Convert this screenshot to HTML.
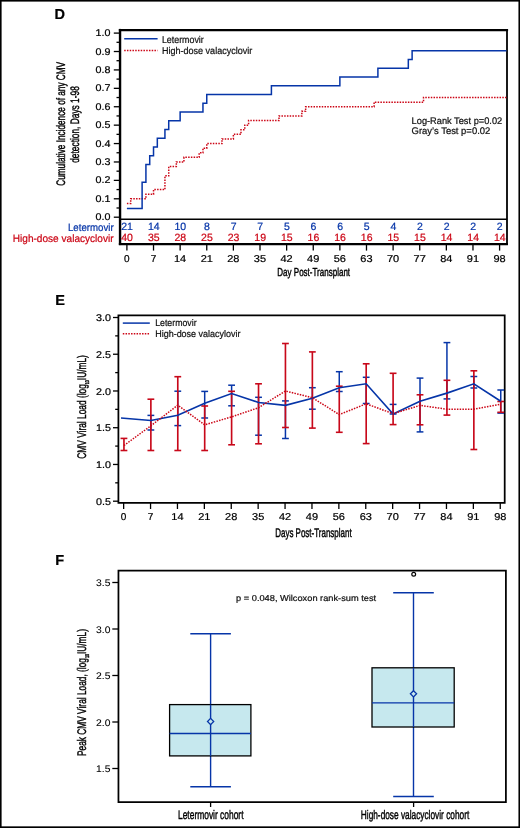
<!DOCTYPE html>
<html><head><meta charset="utf-8"><style>
html,body{margin:0;padding:0;background:#fff;}
svg{display:block;will-change:transform;}
text{font-family:"Liberation Sans", sans-serif;text-rendering:geometricPrecision;}
</style></head><body>
<svg width="520" height="828" viewBox="0 0 520 828">
<rect x="0" y="0" width="520" height="828" fill="#fff"/>
<text x="54.60" y="19.00" font-size="14.5" text-anchor="start" fill="#000" font-weight="bold" stroke="#000" stroke-width="0.22">D</text>
<line x1="120.05" y1="28.90" x2="120.05" y2="245.05" stroke="#000" stroke-width="2.4" />
<line x1="118.85" y1="30.05" x2="508.10" y2="30.05" stroke="#000" stroke-width="2.3" />
<line x1="507.00" y1="28.90" x2="507.00" y2="245.05" stroke="#000" stroke-width="1.8" />
<line x1="120.05" y1="219.20" x2="507.00" y2="219.20" stroke="#000" stroke-width="1.5" />
<line x1="118.85" y1="244.10" x2="507.90" y2="244.10" stroke="#000" stroke-width="2.1" />
<line x1="113.80" y1="217.20" x2="120.05" y2="217.20" stroke="#000" stroke-width="1.3" />
<text x="110.50" y="220.30" font-size="9.8" text-anchor="end" fill="#000" font-weight="normal" textLength="14.92" lengthAdjust="spacingAndGlyphs" stroke="#000" stroke-width="0.22">0.0</text>
<line x1="113.80" y1="198.79" x2="120.05" y2="198.79" stroke="#000" stroke-width="1.3" />
<text x="110.50" y="201.89" font-size="9.8" text-anchor="end" fill="#000" font-weight="normal" textLength="14.92" lengthAdjust="spacingAndGlyphs" stroke="#000" stroke-width="0.22">0.1</text>
<line x1="113.80" y1="180.38" x2="120.05" y2="180.38" stroke="#000" stroke-width="1.3" />
<text x="110.50" y="183.48" font-size="9.8" text-anchor="end" fill="#000" font-weight="normal" textLength="14.92" lengthAdjust="spacingAndGlyphs" stroke="#000" stroke-width="0.22">0.2</text>
<line x1="113.80" y1="161.97" x2="120.05" y2="161.97" stroke="#000" stroke-width="1.3" />
<text x="110.50" y="165.07" font-size="9.8" text-anchor="end" fill="#000" font-weight="normal" textLength="14.92" lengthAdjust="spacingAndGlyphs" stroke="#000" stroke-width="0.22">0.3</text>
<line x1="113.80" y1="143.56" x2="120.05" y2="143.56" stroke="#000" stroke-width="1.3" />
<text x="110.50" y="146.66" font-size="9.8" text-anchor="end" fill="#000" font-weight="normal" textLength="14.92" lengthAdjust="spacingAndGlyphs" stroke="#000" stroke-width="0.22">0.4</text>
<line x1="113.80" y1="125.15" x2="120.05" y2="125.15" stroke="#000" stroke-width="1.3" />
<text x="110.50" y="128.25" font-size="9.8" text-anchor="end" fill="#000" font-weight="normal" textLength="14.92" lengthAdjust="spacingAndGlyphs" stroke="#000" stroke-width="0.22">0.5</text>
<line x1="113.80" y1="106.74" x2="120.05" y2="106.74" stroke="#000" stroke-width="1.3" />
<text x="110.50" y="109.84" font-size="9.8" text-anchor="end" fill="#000" font-weight="normal" textLength="14.92" lengthAdjust="spacingAndGlyphs" stroke="#000" stroke-width="0.22">0.6</text>
<line x1="113.80" y1="88.33" x2="120.05" y2="88.33" stroke="#000" stroke-width="1.3" />
<text x="110.50" y="91.43" font-size="9.8" text-anchor="end" fill="#000" font-weight="normal" textLength="14.92" lengthAdjust="spacingAndGlyphs" stroke="#000" stroke-width="0.22">0.7</text>
<line x1="113.80" y1="69.92" x2="120.05" y2="69.92" stroke="#000" stroke-width="1.3" />
<text x="110.50" y="73.02" font-size="9.8" text-anchor="end" fill="#000" font-weight="normal" textLength="14.92" lengthAdjust="spacingAndGlyphs" stroke="#000" stroke-width="0.22">0.8</text>
<line x1="113.80" y1="51.51" x2="120.05" y2="51.51" stroke="#000" stroke-width="1.3" />
<text x="110.50" y="54.61" font-size="9.8" text-anchor="end" fill="#000" font-weight="normal" textLength="14.92" lengthAdjust="spacingAndGlyphs" stroke="#000" stroke-width="0.22">0.9</text>
<line x1="113.80" y1="33.10" x2="120.05" y2="33.10" stroke="#000" stroke-width="1.3" />
<text x="110.50" y="36.20" font-size="9.8" text-anchor="end" fill="#000" font-weight="normal" textLength="14.92" lengthAdjust="spacingAndGlyphs" stroke="#000" stroke-width="0.22">1.0</text>
<line x1="116.50" y1="207.99" x2="120.05" y2="207.99" stroke="#000" stroke-width="1.3" />
<line x1="116.50" y1="189.58" x2="120.05" y2="189.58" stroke="#000" stroke-width="1.3" />
<line x1="116.50" y1="171.17" x2="120.05" y2="171.17" stroke="#000" stroke-width="1.3" />
<line x1="116.50" y1="152.76" x2="120.05" y2="152.76" stroke="#000" stroke-width="1.3" />
<line x1="116.50" y1="134.35" x2="120.05" y2="134.35" stroke="#000" stroke-width="1.3" />
<line x1="116.50" y1="115.94" x2="120.05" y2="115.94" stroke="#000" stroke-width="1.3" />
<line x1="116.50" y1="97.53" x2="120.05" y2="97.53" stroke="#000" stroke-width="1.3" />
<line x1="116.50" y1="79.12" x2="120.05" y2="79.12" stroke="#000" stroke-width="1.3" />
<line x1="116.50" y1="60.71" x2="120.05" y2="60.71" stroke="#000" stroke-width="1.3" />
<line x1="116.50" y1="42.30" x2="120.05" y2="42.30" stroke="#000" stroke-width="1.3" />
<line x1="126.90" y1="244.00" x2="126.90" y2="250.60" stroke="#000" stroke-width="1.3" />
<text x="126.90" y="261.80" font-size="10" text-anchor="middle" fill="#000" font-weight="normal" textLength="5.56" lengthAdjust="spacingAndGlyphs" stroke="#000" stroke-width="0.22">0</text>
<line x1="153.52" y1="244.00" x2="153.52" y2="250.60" stroke="#000" stroke-width="1.3" />
<text x="153.52" y="261.80" font-size="10" text-anchor="middle" fill="#000" font-weight="normal" textLength="5.56" lengthAdjust="spacingAndGlyphs" stroke="#000" stroke-width="0.22">7</text>
<line x1="180.14" y1="244.00" x2="180.14" y2="250.60" stroke="#000" stroke-width="1.3" />
<text x="180.14" y="261.80" font-size="10" text-anchor="middle" fill="#000" font-weight="normal" textLength="12.22" lengthAdjust="spacingAndGlyphs" stroke="#000" stroke-width="0.22">14</text>
<line x1="206.76" y1="244.00" x2="206.76" y2="250.60" stroke="#000" stroke-width="1.3" />
<text x="206.76" y="261.80" font-size="10" text-anchor="middle" fill="#000" font-weight="normal" textLength="12.22" lengthAdjust="spacingAndGlyphs" stroke="#000" stroke-width="0.22">21</text>
<line x1="233.38" y1="244.00" x2="233.38" y2="250.60" stroke="#000" stroke-width="1.3" />
<text x="233.38" y="261.80" font-size="10" text-anchor="middle" fill="#000" font-weight="normal" textLength="12.22" lengthAdjust="spacingAndGlyphs" stroke="#000" stroke-width="0.22">28</text>
<line x1="260.00" y1="244.00" x2="260.00" y2="250.60" stroke="#000" stroke-width="1.3" />
<text x="260.00" y="261.80" font-size="10" text-anchor="middle" fill="#000" font-weight="normal" textLength="12.22" lengthAdjust="spacingAndGlyphs" stroke="#000" stroke-width="0.22">35</text>
<line x1="286.63" y1="244.00" x2="286.63" y2="250.60" stroke="#000" stroke-width="1.3" />
<text x="286.63" y="261.80" font-size="10" text-anchor="middle" fill="#000" font-weight="normal" textLength="12.22" lengthAdjust="spacingAndGlyphs" stroke="#000" stroke-width="0.22">42</text>
<line x1="313.25" y1="244.00" x2="313.25" y2="250.60" stroke="#000" stroke-width="1.3" />
<text x="313.25" y="261.80" font-size="10" text-anchor="middle" fill="#000" font-weight="normal" textLength="12.22" lengthAdjust="spacingAndGlyphs" stroke="#000" stroke-width="0.22">49</text>
<line x1="339.87" y1="244.00" x2="339.87" y2="250.60" stroke="#000" stroke-width="1.3" />
<text x="339.87" y="261.80" font-size="10" text-anchor="middle" fill="#000" font-weight="normal" textLength="12.22" lengthAdjust="spacingAndGlyphs" stroke="#000" stroke-width="0.22">56</text>
<line x1="366.49" y1="244.00" x2="366.49" y2="250.60" stroke="#000" stroke-width="1.3" />
<text x="366.49" y="261.80" font-size="10" text-anchor="middle" fill="#000" font-weight="normal" textLength="12.22" lengthAdjust="spacingAndGlyphs" stroke="#000" stroke-width="0.22">63</text>
<line x1="393.11" y1="244.00" x2="393.11" y2="250.60" stroke="#000" stroke-width="1.3" />
<text x="393.11" y="261.80" font-size="10" text-anchor="middle" fill="#000" font-weight="normal" textLength="12.22" lengthAdjust="spacingAndGlyphs" stroke="#000" stroke-width="0.22">70</text>
<line x1="419.73" y1="244.00" x2="419.73" y2="250.60" stroke="#000" stroke-width="1.3" />
<text x="419.73" y="261.80" font-size="10" text-anchor="middle" fill="#000" font-weight="normal" textLength="12.22" lengthAdjust="spacingAndGlyphs" stroke="#000" stroke-width="0.22">77</text>
<line x1="446.35" y1="244.00" x2="446.35" y2="250.60" stroke="#000" stroke-width="1.3" />
<text x="446.35" y="261.80" font-size="10" text-anchor="middle" fill="#000" font-weight="normal" textLength="12.22" lengthAdjust="spacingAndGlyphs" stroke="#000" stroke-width="0.22">84</text>
<line x1="472.97" y1="244.00" x2="472.97" y2="250.60" stroke="#000" stroke-width="1.3" />
<text x="472.97" y="261.80" font-size="10" text-anchor="middle" fill="#000" font-weight="normal" textLength="12.22" lengthAdjust="spacingAndGlyphs" stroke="#000" stroke-width="0.22">91</text>
<line x1="499.59" y1="244.00" x2="499.59" y2="250.60" stroke="#000" stroke-width="1.3" />
<text x="499.59" y="261.80" font-size="10" text-anchor="middle" fill="#000" font-weight="normal" textLength="12.22" lengthAdjust="spacingAndGlyphs" stroke="#000" stroke-width="0.22">98</text>
<text x="313.70" y="276.30" font-size="11.6" text-anchor="middle" fill="#000" font-weight="normal" textLength="72.80" lengthAdjust="spacingAndGlyphs" stroke="#000" stroke-width="0.42">Day Post-Transplant</text>
<text transform="translate(64.60,123.85) rotate(-90)" x="0" y="0" font-size="12.3" text-anchor="middle" fill="#000" textLength="123.90" lengthAdjust="spacingAndGlyphs" stroke="#000" stroke-width="0.42">Cumulative Incidence of any CMV</text>
<text transform="translate(78.90,124.50) rotate(-90)" x="0" y="0" font-size="12.3" text-anchor="middle" fill="#000" textLength="76.60" lengthAdjust="spacingAndGlyphs" stroke="#000" stroke-width="0.42">detection, Days 1-98</text>
<line x1="124.20" y1="38.80" x2="157.60" y2="38.80" stroke="#0635a8" stroke-width="1.5" />
<line x1="124.20" y1="50.40" x2="157.60" y2="50.40" stroke="#cc0616" stroke-width="1.5" stroke-dasharray="1.5 1.25"/>
<text x="161.90" y="42.90" font-size="9.8" text-anchor="start" fill="#111" font-weight="normal" textLength="41.90" lengthAdjust="spacingAndGlyphs" stroke="#111" stroke-width="0.22">Letermovir</text>
<text x="161.90" y="54.10" font-size="9.8" text-anchor="start" fill="#111" font-weight="normal" textLength="90.40" lengthAdjust="spacingAndGlyphs" stroke="#111" stroke-width="0.22">High-dose valacyclovir</text>
<text x="411.60" y="123.80" font-size="9.6" text-anchor="start" fill="#111" font-weight="normal" textLength="90.60" lengthAdjust="spacingAndGlyphs" stroke="#111" stroke-width="0.22">Log-Rank Test p=0.02</text>
<text x="411.60" y="134.40" font-size="9.6" text-anchor="start" fill="#111" font-weight="normal" textLength="78.70" lengthAdjust="spacingAndGlyphs" stroke="#111" stroke-width="0.22">Gray&#8217;s Test p=0.02</text>
<path d="M126.90,203.39 H130.70 V198.79 H145.92 V194.19 H153.52 V189.58 H164.93 V175.78 H168.73 V166.57 H176.34 V161.97 H183.94 V157.37 H199.16 V152.76 H202.96 V148.16 H206.76 V143.56 H221.98 V138.96 H233.38 V134.35 H240.99 V129.75 H244.79 V125.15 H248.60 V120.55 H279.02 V115.94 H301.84 V111.34 H305.64 V106.74 H374.10 V102.14 H423.53 V97.53 H506.40" fill="none" stroke="#cc0616" stroke-width="1.5" stroke-dasharray="1.5 1.25"/>
<path d="M126.90,208.43 H142.11 V182.13 H145.92 V164.60 H149.72 V155.83 H153.52 V147.07 H157.32 V138.30 H164.93 V129.53 H168.73 V120.77 H180.14 V112.00 H202.96 V103.23 H206.76 V94.47 H271.41 V85.70 H339.87 V76.93 H377.90 V68.17 H408.32 V59.40 H412.12 V50.63 H506.40" fill="none" stroke="#0635a8" stroke-width="1.5"/>
<text x="113.60" y="230.70" font-size="10.6" text-anchor="end" fill="#0635a8" font-weight="normal" textLength="45.60" lengthAdjust="spacingAndGlyphs" stroke="#0635a8" stroke-width="0.22">Letermovir</text>
<text x="113.60" y="242.00" font-size="10.6" text-anchor="end" fill="#cc0616" font-weight="normal" textLength="100.80" lengthAdjust="spacingAndGlyphs" stroke="#cc0616" stroke-width="0.22">High-dose valacyclovir</text>
<text x="127.10" y="230.40" font-size="10.5" text-anchor="middle" fill="#0635a8" font-weight="normal" stroke="#0635a8" stroke-width="0.22">21</text>
<text x="127.10" y="241.00" font-size="10.5" text-anchor="middle" fill="#cc0616" font-weight="normal" stroke="#cc0616" stroke-width="0.22">40</text>
<text x="153.72" y="230.40" font-size="10.5" text-anchor="middle" fill="#0635a8" font-weight="normal" stroke="#0635a8" stroke-width="0.22">14</text>
<text x="153.72" y="241.00" font-size="10.5" text-anchor="middle" fill="#cc0616" font-weight="normal" stroke="#cc0616" stroke-width="0.22">35</text>
<text x="180.34" y="230.40" font-size="10.5" text-anchor="middle" fill="#0635a8" font-weight="normal" stroke="#0635a8" stroke-width="0.22">10</text>
<text x="180.34" y="241.00" font-size="10.5" text-anchor="middle" fill="#cc0616" font-weight="normal" stroke="#cc0616" stroke-width="0.22">28</text>
<text x="206.96" y="230.40" font-size="10.5" text-anchor="middle" fill="#0635a8" font-weight="normal" stroke="#0635a8" stroke-width="0.22">8</text>
<text x="206.96" y="241.00" font-size="10.5" text-anchor="middle" fill="#cc0616" font-weight="normal" stroke="#cc0616" stroke-width="0.22">25</text>
<text x="233.58" y="230.40" font-size="10.5" text-anchor="middle" fill="#0635a8" font-weight="normal" stroke="#0635a8" stroke-width="0.22">7</text>
<text x="233.58" y="241.00" font-size="10.5" text-anchor="middle" fill="#cc0616" font-weight="normal" stroke="#cc0616" stroke-width="0.22">23</text>
<text x="260.20" y="230.40" font-size="10.5" text-anchor="middle" fill="#0635a8" font-weight="normal" stroke="#0635a8" stroke-width="0.22">7</text>
<text x="260.20" y="241.00" font-size="10.5" text-anchor="middle" fill="#cc0616" font-weight="normal" stroke="#cc0616" stroke-width="0.22">19</text>
<text x="286.83" y="230.40" font-size="10.5" text-anchor="middle" fill="#0635a8" font-weight="normal" stroke="#0635a8" stroke-width="0.22">5</text>
<text x="286.83" y="241.00" font-size="10.5" text-anchor="middle" fill="#cc0616" font-weight="normal" stroke="#cc0616" stroke-width="0.22">15</text>
<text x="313.45" y="230.40" font-size="10.5" text-anchor="middle" fill="#0635a8" font-weight="normal" stroke="#0635a8" stroke-width="0.22">6</text>
<text x="313.45" y="241.00" font-size="10.5" text-anchor="middle" fill="#cc0616" font-weight="normal" stroke="#cc0616" stroke-width="0.22">16</text>
<text x="340.07" y="230.40" font-size="10.5" text-anchor="middle" fill="#0635a8" font-weight="normal" stroke="#0635a8" stroke-width="0.22">6</text>
<text x="340.07" y="241.00" font-size="10.5" text-anchor="middle" fill="#cc0616" font-weight="normal" stroke="#cc0616" stroke-width="0.22">16</text>
<text x="366.69" y="230.40" font-size="10.5" text-anchor="middle" fill="#0635a8" font-weight="normal" stroke="#0635a8" stroke-width="0.22">5</text>
<text x="366.69" y="241.00" font-size="10.5" text-anchor="middle" fill="#cc0616" font-weight="normal" stroke="#cc0616" stroke-width="0.22">16</text>
<text x="393.31" y="230.40" font-size="10.5" text-anchor="middle" fill="#0635a8" font-weight="normal" stroke="#0635a8" stroke-width="0.22">4</text>
<text x="393.31" y="241.00" font-size="10.5" text-anchor="middle" fill="#cc0616" font-weight="normal" stroke="#cc0616" stroke-width="0.22">15</text>
<text x="419.93" y="230.40" font-size="10.5" text-anchor="middle" fill="#0635a8" font-weight="normal" stroke="#0635a8" stroke-width="0.22">2</text>
<text x="419.93" y="241.00" font-size="10.5" text-anchor="middle" fill="#cc0616" font-weight="normal" stroke="#cc0616" stroke-width="0.22">15</text>
<text x="446.55" y="230.40" font-size="10.5" text-anchor="middle" fill="#0635a8" font-weight="normal" stroke="#0635a8" stroke-width="0.22">2</text>
<text x="446.55" y="241.00" font-size="10.5" text-anchor="middle" fill="#cc0616" font-weight="normal" stroke="#cc0616" stroke-width="0.22">14</text>
<text x="473.17" y="230.40" font-size="10.5" text-anchor="middle" fill="#0635a8" font-weight="normal" stroke="#0635a8" stroke-width="0.22">2</text>
<text x="473.17" y="241.00" font-size="10.5" text-anchor="middle" fill="#cc0616" font-weight="normal" stroke="#cc0616" stroke-width="0.22">14</text>
<text x="499.79" y="230.40" font-size="10.5" text-anchor="middle" fill="#0635a8" font-weight="normal" stroke="#0635a8" stroke-width="0.22">2</text>
<text x="499.79" y="241.00" font-size="10.5" text-anchor="middle" fill="#cc0616" font-weight="normal" stroke="#cc0616" stroke-width="0.22">14</text>
<text x="55.30" y="305.40" font-size="14.5" text-anchor="start" fill="#000" font-weight="bold" stroke="#000" stroke-width="0.22">E</text>
<path d="M118.4,502.8 V315.4 H504.7 V502.8 Z" fill="none" stroke="#000" stroke-width="1.75"/>
<line x1="113.00" y1="501.20" x2="118.40" y2="501.20" stroke="#000" stroke-width="1.3" />
<text x="110.90" y="504.90" font-size="9.8" text-anchor="end" fill="#000" font-weight="normal" textLength="14.92" lengthAdjust="spacingAndGlyphs" stroke="#000" stroke-width="0.22">0.5</text>
<line x1="113.00" y1="464.46" x2="118.40" y2="464.46" stroke="#000" stroke-width="1.3" />
<text x="110.90" y="468.16" font-size="9.8" text-anchor="end" fill="#000" font-weight="normal" textLength="14.92" lengthAdjust="spacingAndGlyphs" stroke="#000" stroke-width="0.22">1.0</text>
<line x1="113.00" y1="427.72" x2="118.40" y2="427.72" stroke="#000" stroke-width="1.3" />
<text x="110.90" y="431.42" font-size="9.8" text-anchor="end" fill="#000" font-weight="normal" textLength="14.92" lengthAdjust="spacingAndGlyphs" stroke="#000" stroke-width="0.22">1.5</text>
<line x1="113.00" y1="390.98" x2="118.40" y2="390.98" stroke="#000" stroke-width="1.3" />
<text x="110.90" y="394.68" font-size="9.8" text-anchor="end" fill="#000" font-weight="normal" textLength="14.92" lengthAdjust="spacingAndGlyphs" stroke="#000" stroke-width="0.22">2.0</text>
<line x1="113.00" y1="354.24" x2="118.40" y2="354.24" stroke="#000" stroke-width="1.3" />
<text x="110.90" y="357.94" font-size="9.8" text-anchor="end" fill="#000" font-weight="normal" textLength="14.92" lengthAdjust="spacingAndGlyphs" stroke="#000" stroke-width="0.22">2.5</text>
<line x1="113.00" y1="317.50" x2="118.40" y2="317.50" stroke="#000" stroke-width="1.3" />
<text x="110.90" y="321.20" font-size="9.8" text-anchor="end" fill="#000" font-weight="normal" textLength="14.92" lengthAdjust="spacingAndGlyphs" stroke="#000" stroke-width="0.22">3.0</text>
<line x1="115.20" y1="482.83" x2="118.40" y2="482.83" stroke="#000" stroke-width="1.3" />
<line x1="115.20" y1="446.09" x2="118.40" y2="446.09" stroke="#000" stroke-width="1.3" />
<line x1="115.20" y1="409.35" x2="118.40" y2="409.35" stroke="#000" stroke-width="1.3" />
<line x1="115.20" y1="372.61" x2="118.40" y2="372.61" stroke="#000" stroke-width="1.3" />
<line x1="115.20" y1="335.87" x2="118.40" y2="335.87" stroke="#000" stroke-width="1.3" />
<line x1="123.65" y1="502.80" x2="123.65" y2="509.00" stroke="#000" stroke-width="1.3" />
<text x="123.65" y="520.20" font-size="10" text-anchor="middle" fill="#000" font-weight="normal" textLength="5.56" lengthAdjust="spacingAndGlyphs" stroke="#000" stroke-width="0.22">0</text>
<line x1="150.55" y1="502.80" x2="150.55" y2="509.00" stroke="#000" stroke-width="1.3" />
<text x="150.55" y="520.20" font-size="10" text-anchor="middle" fill="#000" font-weight="normal" textLength="5.56" lengthAdjust="spacingAndGlyphs" stroke="#000" stroke-width="0.22">7</text>
<line x1="177.45" y1="502.80" x2="177.45" y2="509.00" stroke="#000" stroke-width="1.3" />
<text x="177.45" y="520.20" font-size="10" text-anchor="middle" fill="#000" font-weight="normal" textLength="12.22" lengthAdjust="spacingAndGlyphs" stroke="#000" stroke-width="0.22">14</text>
<line x1="204.35" y1="502.80" x2="204.35" y2="509.00" stroke="#000" stroke-width="1.3" />
<text x="204.35" y="520.20" font-size="10" text-anchor="middle" fill="#000" font-weight="normal" textLength="12.22" lengthAdjust="spacingAndGlyphs" stroke="#000" stroke-width="0.22">21</text>
<line x1="231.25" y1="502.80" x2="231.25" y2="509.00" stroke="#000" stroke-width="1.3" />
<text x="231.25" y="520.20" font-size="10" text-anchor="middle" fill="#000" font-weight="normal" textLength="12.22" lengthAdjust="spacingAndGlyphs" stroke="#000" stroke-width="0.22">28</text>
<line x1="258.15" y1="502.80" x2="258.15" y2="509.00" stroke="#000" stroke-width="1.3" />
<text x="258.15" y="520.20" font-size="10" text-anchor="middle" fill="#000" font-weight="normal" textLength="12.22" lengthAdjust="spacingAndGlyphs" stroke="#000" stroke-width="0.22">35</text>
<line x1="285.06" y1="502.80" x2="285.06" y2="509.00" stroke="#000" stroke-width="1.3" />
<text x="285.06" y="520.20" font-size="10" text-anchor="middle" fill="#000" font-weight="normal" textLength="12.22" lengthAdjust="spacingAndGlyphs" stroke="#000" stroke-width="0.22">42</text>
<line x1="311.96" y1="502.80" x2="311.96" y2="509.00" stroke="#000" stroke-width="1.3" />
<text x="311.96" y="520.20" font-size="10" text-anchor="middle" fill="#000" font-weight="normal" textLength="12.22" lengthAdjust="spacingAndGlyphs" stroke="#000" stroke-width="0.22">49</text>
<line x1="338.86" y1="502.80" x2="338.86" y2="509.00" stroke="#000" stroke-width="1.3" />
<text x="338.86" y="520.20" font-size="10" text-anchor="middle" fill="#000" font-weight="normal" textLength="12.22" lengthAdjust="spacingAndGlyphs" stroke="#000" stroke-width="0.22">56</text>
<line x1="365.76" y1="502.80" x2="365.76" y2="509.00" stroke="#000" stroke-width="1.3" />
<text x="365.76" y="520.20" font-size="10" text-anchor="middle" fill="#000" font-weight="normal" textLength="12.22" lengthAdjust="spacingAndGlyphs" stroke="#000" stroke-width="0.22">63</text>
<line x1="392.66" y1="502.80" x2="392.66" y2="509.00" stroke="#000" stroke-width="1.3" />
<text x="392.66" y="520.20" font-size="10" text-anchor="middle" fill="#000" font-weight="normal" textLength="12.22" lengthAdjust="spacingAndGlyphs" stroke="#000" stroke-width="0.22">70</text>
<line x1="419.56" y1="502.80" x2="419.56" y2="509.00" stroke="#000" stroke-width="1.3" />
<text x="419.56" y="520.20" font-size="10" text-anchor="middle" fill="#000" font-weight="normal" textLength="12.22" lengthAdjust="spacingAndGlyphs" stroke="#000" stroke-width="0.22">77</text>
<line x1="446.46" y1="502.80" x2="446.46" y2="509.00" stroke="#000" stroke-width="1.3" />
<text x="446.46" y="520.20" font-size="10" text-anchor="middle" fill="#000" font-weight="normal" textLength="12.22" lengthAdjust="spacingAndGlyphs" stroke="#000" stroke-width="0.22">84</text>
<line x1="473.36" y1="502.80" x2="473.36" y2="509.00" stroke="#000" stroke-width="1.3" />
<text x="473.36" y="520.20" font-size="10" text-anchor="middle" fill="#000" font-weight="normal" textLength="12.22" lengthAdjust="spacingAndGlyphs" stroke="#000" stroke-width="0.22">91</text>
<line x1="500.26" y1="502.80" x2="500.26" y2="509.00" stroke="#000" stroke-width="1.3" />
<text x="500.26" y="520.20" font-size="10" text-anchor="middle" fill="#000" font-weight="normal" textLength="12.22" lengthAdjust="spacingAndGlyphs" stroke="#000" stroke-width="0.22">98</text>
<text x="313.45" y="537.00" font-size="12.4" text-anchor="middle" fill="#000" font-weight="normal" textLength="76.50" lengthAdjust="spacingAndGlyphs" stroke="#000" stroke-width="0.42">Days Post-Transplant</text>
<text transform="translate(85.80,406.90) rotate(-90)" x="0" y="0" font-size="12.5" text-anchor="middle" fill="#000" textLength="103.60" lengthAdjust="spacingAndGlyphs" stroke="#000" stroke-width="0.42">CMV Viral Load (log<tspan font-size="5.5" dy="3">10</tspan><tspan dy="-3">IU/mL)</tspan></text>
<line x1="122.80" y1="323.10" x2="149.80" y2="323.10" stroke="#0635a8" stroke-width="1.5" />
<line x1="122.80" y1="333.80" x2="149.80" y2="333.80" stroke="#cc0616" stroke-width="1.5" stroke-dasharray="1.5 1.25"/>
<text x="155.20" y="326.40" font-size="9.6" text-anchor="start" fill="#111" font-weight="normal" textLength="41.40" lengthAdjust="spacingAndGlyphs" stroke="#111" stroke-width="0.22">Letermovir</text>
<text x="155.20" y="337.20" font-size="9.6" text-anchor="start" fill="#111" font-weight="normal" textLength="85.30" lengthAdjust="spacingAndGlyphs" stroke="#111" stroke-width="0.22">High-dose valacylovir</text>
<g>
<line x1="150.87" y1="415.40" x2="150.87" y2="430.00" stroke="#0635a8" stroke-width="1.5" />
<line x1="147.47" y1="415.40" x2="154.27" y2="415.40" stroke="#0635a8" stroke-width="1.5" />
<line x1="147.47" y1="430.00" x2="154.27" y2="430.00" stroke="#0635a8" stroke-width="1.5" />
<line x1="177.78" y1="391.20" x2="177.78" y2="425.60" stroke="#0635a8" stroke-width="1.5" />
<line x1="174.38" y1="391.20" x2="181.18" y2="391.20" stroke="#0635a8" stroke-width="1.5" />
<line x1="174.38" y1="425.60" x2="181.18" y2="425.60" stroke="#0635a8" stroke-width="1.5" />
<line x1="204.69" y1="391.40" x2="204.69" y2="418.00" stroke="#0635a8" stroke-width="1.5" />
<line x1="201.29" y1="391.40" x2="208.09" y2="391.40" stroke="#0635a8" stroke-width="1.5" />
<line x1="201.29" y1="418.00" x2="208.09" y2="418.00" stroke="#0635a8" stroke-width="1.5" />
<line x1="231.61" y1="385.20" x2="231.61" y2="405.80" stroke="#0635a8" stroke-width="1.5" />
<line x1="228.21" y1="385.20" x2="235.01" y2="385.20" stroke="#0635a8" stroke-width="1.5" />
<line x1="228.21" y1="405.80" x2="235.01" y2="405.80" stroke="#0635a8" stroke-width="1.5" />
<line x1="258.53" y1="397.30" x2="258.53" y2="435.20" stroke="#0635a8" stroke-width="1.5" />
<line x1="255.13" y1="397.30" x2="261.93" y2="397.30" stroke="#0635a8" stroke-width="1.5" />
<line x1="255.13" y1="435.20" x2="261.93" y2="435.20" stroke="#0635a8" stroke-width="1.5" />
<line x1="285.44" y1="400.90" x2="285.44" y2="438.50" stroke="#0635a8" stroke-width="1.5" />
<line x1="282.04" y1="400.90" x2="288.84" y2="400.90" stroke="#0635a8" stroke-width="1.5" />
<line x1="282.04" y1="438.50" x2="288.84" y2="438.50" stroke="#0635a8" stroke-width="1.5" />
<line x1="312.36" y1="387.70" x2="312.36" y2="409.20" stroke="#0635a8" stroke-width="1.5" />
<line x1="308.96" y1="387.70" x2="315.75" y2="387.70" stroke="#0635a8" stroke-width="1.5" />
<line x1="308.96" y1="409.20" x2="315.75" y2="409.20" stroke="#0635a8" stroke-width="1.5" />
<line x1="339.27" y1="371.70" x2="339.27" y2="391.50" stroke="#0635a8" stroke-width="1.5" />
<line x1="335.87" y1="371.70" x2="342.67" y2="371.70" stroke="#0635a8" stroke-width="1.5" />
<line x1="335.87" y1="391.50" x2="342.67" y2="391.50" stroke="#0635a8" stroke-width="1.5" />
<line x1="366.19" y1="377.30" x2="366.19" y2="403.50" stroke="#0635a8" stroke-width="1.5" />
<line x1="362.79" y1="377.30" x2="369.58" y2="377.30" stroke="#0635a8" stroke-width="1.5" />
<line x1="362.79" y1="403.50" x2="369.58" y2="403.50" stroke="#0635a8" stroke-width="1.5" />
<line x1="393.10" y1="404.40" x2="393.10" y2="414.00" stroke="#0635a8" stroke-width="1.5" />
<line x1="389.70" y1="404.40" x2="396.50" y2="404.40" stroke="#0635a8" stroke-width="1.5" />
<line x1="389.70" y1="414.00" x2="396.50" y2="414.00" stroke="#0635a8" stroke-width="1.5" />
<line x1="420.01" y1="378.10" x2="420.01" y2="431.90" stroke="#0635a8" stroke-width="1.5" />
<line x1="416.62" y1="378.10" x2="423.41" y2="378.10" stroke="#0635a8" stroke-width="1.5" />
<line x1="416.62" y1="431.90" x2="423.41" y2="431.90" stroke="#0635a8" stroke-width="1.5" />
<line x1="446.93" y1="342.60" x2="446.93" y2="398.90" stroke="#0635a8" stroke-width="1.5" />
<line x1="443.53" y1="342.60" x2="450.33" y2="342.60" stroke="#0635a8" stroke-width="1.5" />
<line x1="443.53" y1="398.90" x2="450.33" y2="398.90" stroke="#0635a8" stroke-width="1.5" />
<line x1="473.85" y1="376.50" x2="473.85" y2="388.00" stroke="#0635a8" stroke-width="1.5" />
<line x1="470.45" y1="376.50" x2="477.25" y2="376.50" stroke="#0635a8" stroke-width="1.5" />
<line x1="470.45" y1="388.00" x2="477.25" y2="388.00" stroke="#0635a8" stroke-width="1.5" />
<line x1="500.76" y1="390.00" x2="500.76" y2="413.10" stroke="#0635a8" stroke-width="1.5" />
<line x1="497.36" y1="390.00" x2="504.16" y2="390.00" stroke="#0635a8" stroke-width="1.5" />
<line x1="497.36" y1="413.10" x2="504.16" y2="413.10" stroke="#0635a8" stroke-width="1.5" />
<line x1="123.95" y1="438.40" x2="123.95" y2="450.50" stroke="#c8081a" stroke-width="1.65" />
<line x1="120.55" y1="438.40" x2="127.35" y2="438.40" stroke="#c8081a" stroke-width="1.6" />
<line x1="120.55" y1="450.50" x2="127.35" y2="450.50" stroke="#c8081a" stroke-width="1.6" />
<line x1="150.87" y1="399.20" x2="150.87" y2="450.50" stroke="#c8081a" stroke-width="1.65" />
<line x1="147.47" y1="399.20" x2="154.27" y2="399.20" stroke="#c8081a" stroke-width="1.6" />
<line x1="147.47" y1="450.50" x2="154.27" y2="450.50" stroke="#c8081a" stroke-width="1.6" />
<line x1="177.78" y1="376.70" x2="177.78" y2="450.50" stroke="#c8081a" stroke-width="1.65" />
<line x1="174.38" y1="376.70" x2="181.18" y2="376.70" stroke="#c8081a" stroke-width="1.6" />
<line x1="174.38" y1="450.50" x2="181.18" y2="450.50" stroke="#c8081a" stroke-width="1.6" />
<line x1="204.69" y1="406.00" x2="204.69" y2="450.50" stroke="#c8081a" stroke-width="1.65" />
<line x1="201.29" y1="406.00" x2="208.09" y2="406.00" stroke="#c8081a" stroke-width="1.6" />
<line x1="201.29" y1="450.50" x2="208.09" y2="450.50" stroke="#c8081a" stroke-width="1.6" />
<line x1="231.61" y1="391.30" x2="231.61" y2="444.80" stroke="#c8081a" stroke-width="1.65" />
<line x1="228.21" y1="391.30" x2="235.01" y2="391.30" stroke="#c8081a" stroke-width="1.6" />
<line x1="228.21" y1="444.80" x2="235.01" y2="444.80" stroke="#c8081a" stroke-width="1.6" />
<line x1="258.53" y1="383.80" x2="258.53" y2="443.80" stroke="#c8081a" stroke-width="1.65" />
<line x1="255.13" y1="383.80" x2="261.93" y2="383.80" stroke="#c8081a" stroke-width="1.6" />
<line x1="255.13" y1="443.80" x2="261.93" y2="443.80" stroke="#c8081a" stroke-width="1.6" />
<line x1="285.44" y1="343.50" x2="285.44" y2="427.50" stroke="#c8081a" stroke-width="1.65" />
<line x1="282.04" y1="343.50" x2="288.84" y2="343.50" stroke="#c8081a" stroke-width="1.6" />
<line x1="282.04" y1="427.50" x2="288.84" y2="427.50" stroke="#c8081a" stroke-width="1.6" />
<line x1="312.36" y1="351.90" x2="312.36" y2="428.10" stroke="#c8081a" stroke-width="1.65" />
<line x1="308.96" y1="351.90" x2="315.75" y2="351.90" stroke="#c8081a" stroke-width="1.6" />
<line x1="308.96" y1="428.10" x2="315.75" y2="428.10" stroke="#c8081a" stroke-width="1.6" />
<line x1="339.27" y1="386.20" x2="339.27" y2="432.30" stroke="#c8081a" stroke-width="1.65" />
<line x1="335.87" y1="386.20" x2="342.67" y2="386.20" stroke="#c8081a" stroke-width="1.6" />
<line x1="335.87" y1="432.30" x2="342.67" y2="432.30" stroke="#c8081a" stroke-width="1.6" />
<line x1="366.19" y1="363.80" x2="366.19" y2="443.60" stroke="#c8081a" stroke-width="1.65" />
<line x1="362.79" y1="363.80" x2="369.58" y2="363.80" stroke="#c8081a" stroke-width="1.6" />
<line x1="362.79" y1="443.60" x2="369.58" y2="443.60" stroke="#c8081a" stroke-width="1.6" />
<line x1="393.10" y1="373.30" x2="393.10" y2="424.60" stroke="#c8081a" stroke-width="1.65" />
<line x1="389.70" y1="373.30" x2="396.50" y2="373.30" stroke="#c8081a" stroke-width="1.6" />
<line x1="389.70" y1="424.60" x2="396.50" y2="424.60" stroke="#c8081a" stroke-width="1.6" />
<line x1="420.01" y1="394.80" x2="420.01" y2="424.80" stroke="#c8081a" stroke-width="1.65" />
<line x1="416.62" y1="394.80" x2="423.41" y2="394.80" stroke="#c8081a" stroke-width="1.6" />
<line x1="416.62" y1="424.80" x2="423.41" y2="424.80" stroke="#c8081a" stroke-width="1.6" />
<line x1="446.93" y1="380.30" x2="446.93" y2="415.10" stroke="#c8081a" stroke-width="1.65" />
<line x1="443.53" y1="380.30" x2="450.33" y2="380.30" stroke="#c8081a" stroke-width="1.6" />
<line x1="443.53" y1="415.10" x2="450.33" y2="415.10" stroke="#c8081a" stroke-width="1.6" />
<line x1="473.85" y1="370.80" x2="473.85" y2="449.50" stroke="#c8081a" stroke-width="1.65" />
<line x1="470.45" y1="370.80" x2="477.25" y2="370.80" stroke="#c8081a" stroke-width="1.6" />
<line x1="470.45" y1="449.50" x2="477.25" y2="449.50" stroke="#c8081a" stroke-width="1.6" />
<line x1="500.76" y1="401.50" x2="500.76" y2="412.30" stroke="#c8081a" stroke-width="1.65" />
<line x1="497.36" y1="401.50" x2="504.16" y2="401.50" stroke="#c8081a" stroke-width="1.6" />
<line x1="497.36" y1="412.30" x2="504.16" y2="412.30" stroke="#c8081a" stroke-width="1.6" />
<polyline points="121.00,418.00 150.87,420.50 177.78,415.20 204.69,403.30 231.61,393.50 258.53,402.50 285.44,405.40 312.36,398.30 339.27,387.70 366.19,383.80 393.10,414.00 420.01,401.20 446.93,393.10 473.85,383.80 500.76,401.20" fill="none" stroke="#0635a8" stroke-width="1.65"/>
<polyline points="123.95,445.50 150.87,425.80 177.78,405.20 204.69,424.80 231.61,416.90 258.53,407.70 285.44,391.00 312.36,397.70 339.27,414.60 366.19,403.80 393.10,413.70 420.01,405.40 446.93,409.20 473.85,409.20 500.76,404.30" fill="none" stroke="#cc0616" stroke-width="1.5" stroke-dasharray="1.5 1.25"/>
</g>
<text x="55.30" y="565.40" font-size="14.5" text-anchor="start" fill="#000" font-weight="bold" stroke="#000" stroke-width="0.22">F</text>
<path d="M118.45,802.2 V570.5 H505.9 V802.2 Z" fill="none" stroke="#000" stroke-width="1.75"/>
<line x1="112.30" y1="768.50" x2="118.45" y2="768.50" stroke="#000" stroke-width="1.3" />
<text x="110.40" y="772.40" font-size="9.6" text-anchor="end" fill="#000" font-weight="normal" textLength="14.35" lengthAdjust="spacingAndGlyphs" stroke="#000" stroke-width="0.08">1.5</text>
<line x1="112.30" y1="722.00" x2="118.45" y2="722.00" stroke="#000" stroke-width="1.3" />
<text x="110.40" y="725.90" font-size="9.6" text-anchor="end" fill="#000" font-weight="normal" textLength="14.35" lengthAdjust="spacingAndGlyphs" stroke="#000" stroke-width="0.08">2.0</text>
<line x1="112.30" y1="675.50" x2="118.45" y2="675.50" stroke="#000" stroke-width="1.3" />
<text x="110.40" y="679.40" font-size="9.6" text-anchor="end" fill="#000" font-weight="normal" textLength="14.35" lengthAdjust="spacingAndGlyphs" stroke="#000" stroke-width="0.08">2.5</text>
<line x1="112.30" y1="629.00" x2="118.45" y2="629.00" stroke="#000" stroke-width="1.3" />
<text x="110.40" y="632.90" font-size="9.6" text-anchor="end" fill="#000" font-weight="normal" textLength="14.35" lengthAdjust="spacingAndGlyphs" stroke="#000" stroke-width="0.08">3.0</text>
<line x1="112.30" y1="582.50" x2="118.45" y2="582.50" stroke="#000" stroke-width="1.3" />
<text x="110.40" y="586.40" font-size="9.6" text-anchor="end" fill="#000" font-weight="normal" textLength="14.35" lengthAdjust="spacingAndGlyphs" stroke="#000" stroke-width="0.08">3.5</text>
<line x1="210.60" y1="802.20" x2="210.60" y2="807.00" stroke="#000" stroke-width="1.3" />
<text x="210.75" y="819.00" font-size="12.5" text-anchor="middle" fill="#000" font-weight="normal" textLength="65.50" lengthAdjust="spacingAndGlyphs" stroke="#000" stroke-width="0.42">Letermovir cohort</text>
<line x1="413.60" y1="802.20" x2="413.60" y2="807.00" stroke="#000" stroke-width="1.3" />
<text x="415.00" y="819.00" font-size="12.5" text-anchor="middle" fill="#000" font-weight="normal" textLength="108.40" lengthAdjust="spacingAndGlyphs" stroke="#000" stroke-width="0.42">High-dose valacyclovir cohort</text>
<text transform="translate(85.60,692.50) rotate(-90)" x="0" y="0" font-size="12.5" text-anchor="middle" fill="#000" textLength="126.90" lengthAdjust="spacingAndGlyphs" stroke="#000" stroke-width="0.42">Peak CMV Viral Load, (log<tspan font-size="5.5" dy="3">10</tspan><tspan dy="-3">IU/mL)</tspan></text>
<text x="236.10" y="601.30" font-size="8.6" text-anchor="start" fill="#111" font-weight="normal" textLength="140.00" lengthAdjust="spacingAndGlyphs" stroke="#111" stroke-width="0.22">p = 0.048, Wilcoxon rank-sum test</text>
<line x1="210.60" y1="633.80" x2="210.60" y2="786.80" stroke="#0635a8" stroke-width="1.4" />
<rect x="169.60" y="704.60" width="81.30" height="51.30" fill="#c6e8ee" stroke="#000" stroke-width="1.3"/>
<line x1="210.60" y1="704.60" x2="210.60" y2="755.90" stroke="#0635a8" stroke-width="1.4" />
<line x1="169.60" y1="733.50" x2="250.90" y2="733.50" stroke="#0635a8" stroke-width="1.4" />
<line x1="190.30" y1="633.80" x2="230.90" y2="633.80" stroke="#0635a8" stroke-width="1.4" />
<line x1="190.30" y1="786.80" x2="230.90" y2="786.80" stroke="#0635a8" stroke-width="1.4" />
<path d="M210.60,718.40 L213.70,721.50 L210.60,724.60 L207.50,721.50 Z" fill="#c6e8ee" stroke="#0635a8" stroke-width="1.3"/>
<line x1="413.50" y1="592.80" x2="413.50" y2="796.50" stroke="#0635a8" stroke-width="1.4" />
<rect x="372.00" y="667.80" width="82.20" height="59.20" fill="#c6e8ee" stroke="#000" stroke-width="1.3"/>
<line x1="413.50" y1="667.80" x2="413.50" y2="727.00" stroke="#0635a8" stroke-width="1.4" />
<line x1="372.00" y1="702.90" x2="454.20" y2="702.90" stroke="#0635a8" stroke-width="1.4" />
<line x1="393.20" y1="592.80" x2="433.80" y2="592.80" stroke="#0635a8" stroke-width="1.4" />
<line x1="393.20" y1="796.50" x2="433.80" y2="796.50" stroke="#0635a8" stroke-width="1.4" />
<path d="M413.50,690.70 L416.60,693.80 L413.50,696.90 L410.40,693.80 Z" fill="#c6e8ee" stroke="#0635a8" stroke-width="1.3"/>
<circle cx="413.7" cy="574.3" r="1.9" fill="none" stroke="#000" stroke-width="1.2"/>
<rect x="0" y="0" width="1.6" height="828" fill="#000"/><rect x="0" y="0" width="520" height="1.6" fill="#000"/><rect x="518.45" y="0" width="1.55" height="828" fill="#000"/><rect x="0" y="826.35" width="520" height="1.65" fill="#000"/>
</svg>
</body></html>
